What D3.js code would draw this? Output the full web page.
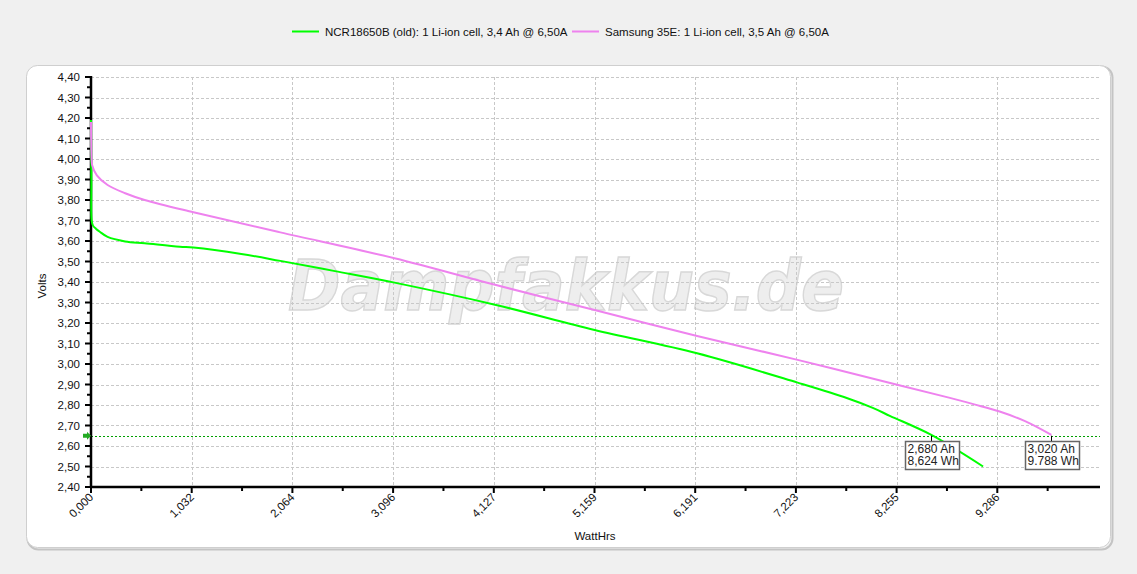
<!DOCTYPE html>
<html><head><meta charset="utf-8">
<script src="https://cdn.jsdelivr.net/npm/d3@7"></script>
<style>
html,body{margin:0;padding:0;background:#f0f0f0;}
svg{display:block;}
text{font-family:Arial,"Liberation Sans",sans-serif;}
</style></head>
<body>
<svg id="chart" width="1137" height="574"></svg>
<script>
// ---- data ----
const seriesNames = ["NCR18650B (old): 1 Li-ion cell, 3,4 Ah @ 6,50A", "Samsung 35E: 1 Li-ion cell, 3,5 Ah @ 6,50A"];
const seriesColors = ["#00ff00", "#ee82ee"];
const ncrWh = [0, 0.004, 0.007, 0.02, 0.05, 0.09, 0.17, 0.35, 0.55, 0.91, 1.05, 1.54, 1.94, 2.5, 3.11, 4.15, 5.16, 6.21, 7.24, 7.75, 8.01, 8.19, 8.61, 9.14];
const ncrV  = [4.19, 3.90, 3.70, 3.675, 3.66, 3.645, 3.62, 3.598, 3.589, 3.572, 3.568, 3.537, 3.503, 3.453, 3.397, 3.288, 3.166, 3.052, 2.909, 2.833, 2.786, 2.746, 2.654, 2.50];
const samWh = [0, 0.006, 0.012, 0.06, 0.17, 0.35, 0.55, 1.05, 1.94, 3.11, 4.15, 5.16, 6.21, 7.24, 8.27, 8.79, 9.05, 9.31, 9.57, 9.84];
const samV  = [4.18, 4.00, 3.97, 3.92, 3.873, 3.833, 3.80, 3.74, 3.642, 3.516, 3.385, 3.263, 3.137, 3.02, 2.898, 2.836, 2.803, 2.768, 2.721, 2.654];
const xTickValues = [0, 1.0318, 2.0635, 3.0953, 4.1271, 5.1589, 6.1906, 7.2224, 8.2542, 9.2859];
const xTickLabels = ["0,000","1,032","2,064","3,096","4,127","5,159","6,191","7,223","8,255","9,286"];
const xMax = 10.3177;
const yTickValues = [2.4,2.5,2.6,2.7,2.8,2.9,3.0,3.1,3.2,3.3,3.4,3.5,3.6,3.7,3.8,3.9,4.0,4.1,4.2,4.3,4.4];
const yTickLabels = ["2,40","2,50","2,60","2,70","2,80","2,90","3,00","3,10","3,20","3,30","3,40","3,50","3,60","3,70","3,80","3,90","4,00","4,10","4,20","4,30","4,40"];
const cutoffV = 2.65;
const annWh = [8.61, 9.84];
const annText = [["2,680 Ah","8,624 Wh"],["3,020 Ah","9.788 Wh"]];

// ---- layout ----
const svg = d3.select("#chart");
const L = 91, R = 1098, T = 77, B = 487;
const x = d3.scaleLinear().domain([0, xMax]).range([L, R]);
const y = d3.scaleLinear().domain([2.4, 4.4]).range([B, T]);
const FS = "11.5px";

// panel
svg.append("rect").attr("x",27.5).attr("y",66.5).attr("width",1085).attr("height",483).attr("rx",11)
  .attr("fill","none").attr("stroke","#c4c4c4").attr("stroke-width",2);
svg.append("rect").attr("x",26.5).attr("y",65.5).attr("width",1084).attr("height",482).attr("rx",11)
  .attr("fill","#ffffff").attr("stroke","#cfcfcf").attr("stroke-width",1);

// watermark
svg.append("text").attr("x",288).attr("y",310).attr("textLength",556).attr("lengthAdjust","spacingAndGlyphs")
  .style("font-family","'DejaVu Sans',Verdana,sans-serif").style("font-weight","bold").style("font-style","italic")
  .style("font-size","70px").attr("fill","#eeeeee").attr("stroke","#d8d8d8").attr("stroke-width",1.5)
  .text("Dampfakkus.de");

// grid
const grid = svg.append("g");
grid.selectAll("line.h").data(yTickValues.slice(1)).join("line")
  .attr("x1",L).attr("x2",1100).attr("y1",d=>Math.round(y(d))+0.5).attr("y2",d=>Math.round(y(d))+0.5)
  .attr("stroke","#c8c8c8").attr("stroke-dasharray","3,2");
grid.selectAll("line.v").data(xTickValues.slice(1)).join("line")
  .attr("y1",T).attr("y2",B).attr("x1",d=>Math.round(x(d))+0.5).attr("x2",d=>Math.round(x(d))+0.5)
  .attr("stroke","#c8c8c8").attr("stroke-dasharray","3,2");

// cutoff line
svg.append("line").attr("x1",L).attr("x2",1100).attr("y1",Math.round(y(cutoffV))+0.5).attr("y2",Math.round(y(cutoffV))+0.5)
  .attr("stroke","#00a000").attr("stroke-dasharray","2,2");

// axes
const yAxis = svg.append("g");
yAxis.append("line").attr("x1",L).attr("x2",L).attr("y1",T-1).attr("y2",B+1).attr("stroke","#000").attr("stroke-width",2.5);
const yMinor = d3.range(2.45, 4.4, 0.1);
yAxis.selectAll("line.mj").data(yTickValues).join("line")
  .attr("x1",L-6).attr("x2",L).attr("y1",d=>y(d)).attr("y2",d=>y(d)).attr("stroke","#000").attr("stroke-width",2);
yAxis.selectAll("line.mn").data(yMinor).join("line")
  .attr("x1",L-4).attr("x2",L).attr("y1",d=>y(d)).attr("y2",d=>y(d)).attr("stroke","#000").attr("stroke-width",2);
yAxis.selectAll("text").data(yTickValues).join("text")
  .attr("x",L-11).attr("y",d=>y(d)+4).attr("text-anchor","end").style("font-size",FS).attr("fill","#111")
  .text((d,i)=>yTickLabels[i]);

const xAxis = svg.append("g");
xAxis.append("line").attr("x1",L-1).attr("x2",R+2).attr("y1",B).attr("y2",B).attr("stroke","#000").attr("stroke-width",2.5);
xAxis.selectAll("line.mj").data(xTickValues).join("line")
  .attr("x1",d=>x(d)).attr("x2",d=>x(d)).attr("y1",B).attr("y2",B+6).attr("stroke","#000").attr("stroke-width",2);
xAxis.selectAll("line.mn").data(xTickValues.map(v=>v+xMax/20)).join("line")
  .attr("x1",d=>x(d)).attr("x2",d=>x(d)).attr("y1",B).attr("y2",B+4).attr("stroke","#000").attr("stroke-width",2);
xAxis.selectAll("text").data(xTickValues).join("text")
  .attr("transform",d=>`translate(${x(d)+3},${B+11}) rotate(-45)`).attr("text-anchor","end")
  .style("font-size",FS).attr("fill","#111").text((d,i)=>xTickLabels[i]);

svg.append("path").attr("d",`M${L-8},${y(cutoffV)-2} h4 v-2 l4,4 l-4,4 v-2 h-4 z`).attr("fill","#22aa22");

// axis titles
svg.append("text").attr("transform","translate(46,286) rotate(-90)").attr("text-anchor","middle")
  .style("font-size",FS).attr("fill","#111").text("Volts");
svg.append("text").attr("x",595).attr("y",540).attr("text-anchor","middle")
  .style("font-size",FS).attr("fill","#111").text("WattHrs");

// curves
const line = d3.line().x(d=>x(d[0])).y(d=>y(d[1])).curve(d3.curveCatmullRom.alpha(0.5));
const ncr = ncrWh.map((w,i)=>[w,ncrV[i]]);
const sam = samWh.map((w,i)=>[w,samV[i]]);
svg.append("path").datum(ncr).attr("d",line).attr("fill","none").attr("stroke",seriesColors[0]).attr("stroke-width",2);
svg.append("path").datum(sam).attr("d",line).attr("fill","none").attr("stroke",seriesColors[1]).attr("stroke-width",2);

// annotations
annWh.forEach((w,i)=>{
  const ax = Math.round(x(w))+0.5, ay = y(cutoffV);
  svg.append("line").attr("x1",ax).attr("x2",ax).attr("y1",ay).attr("y2",ay+6).attr("stroke","#000");
  svg.append("rect").attr("x",ax-26).attr("y",441.5).attr("width",54).attr("height",28)
    .attr("fill","#fff").attr("stroke","#666").attr("stroke-width",1.5);
  annText[i].forEach((t,j)=>{
    svg.append("text").attr("x",ax-24).attr("y",452.5+j*12.5).style("font-size","12px").attr("fill","#222").text(t);
  });
});

// legend
const lg = svg.append("g");
const legX = [292, 572];
seriesNames.forEach((n,i)=>{
  lg.append("line").attr("x1",legX[i]).attr("x2",legX[i]+27).attr("y1",31.5).attr("y2",31.5)
    .attr("stroke",seriesColors[i]).attr("stroke-width",2);
  lg.append("text").attr("x",legX[i]+33).attr("y",35.5).style("font-size",FS).attr("fill","#111").text(n);
});
</script>
</body></html>
